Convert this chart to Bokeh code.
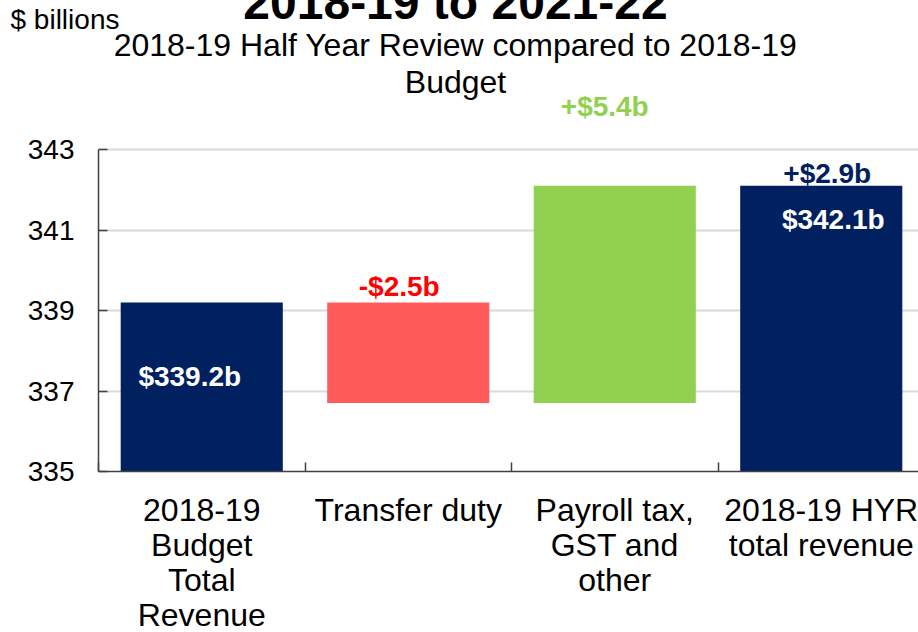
from bokeh.plotting import figure
from bokeh.models import ColumnDataSource, Range1d, FixedTicker, Label
from bokeh.core.properties import value
from bokeh.embed import file_html
from bokeh.resources import INLINE

# ---- data ----
categories = ["2018-19\nBudget\nTotal\nRevenue", "Transfer duty",
              "Payroll tax,\nGST and\nother", "2018-19 HYR\ntotal revenue"]
bar_bottom = [335.0, 336.7, 336.7, 335.0]
bar_top = [339.2, 339.2, 342.1, 342.1]
bar_colors = ["#002060", "#FF5B5B", "#92D050", "#002060"]
total_labels = ["$339.2b", "", "", "$342.1b"]
change_labels = ["", "-$2.5b", "+$5.4b", "+$2.9b"]
change_colors = ["#002060", "#FF0000", "#92D050", "#002060"]
y_ticks = [335, 337, 339, 341, 343]
title_text = "2018-19 to 2021-22"
subtitle_lines = ["2018-19 Half Year Review compared to 2018-19", "Budget"]
unit_text = "$ billions"

FONT = "Liberation Sans"
W, H = 918, 632
PX_X = 206.5   # px per category
PX_Y = 40.25   # px per $b
FRAME_LEFT, FRAME_TOP, FRAME_BOTTOM = 98, 93, 471
BASE_FIX = 0.32  # renderer places alphabetic baseline ~0.32em low; compensate
centers = [i + 0.5 for i in range(len(categories))]

p = figure(width=W, height=H, output_backend="svg", toolbar_location=None,
           x_range=Range1d(0, (W - FRAME_LEFT) / PX_X),
           y_range=Range1d(335, 335 + (FRAME_BOTTOM - FRAME_TOP) / PX_Y),
           min_border_left=FRAME_LEFT, min_border_right=0, min_border_top=FRAME_TOP,
           min_border_bottom=H - FRAME_BOTTOM)
p.outline_line_color = None

src = ColumnDataSource(dict(x=centers, bottom=bar_bottom, top=bar_top, color=bar_colors))
p.vbar(x="x", bottom="bottom", top="top", width=0.785, fill_color="color",
       line_color=None, source=src)

p.xgrid.grid_line_color = None
p.ygrid.ticker = FixedTicker(ticks=y_ticks)
p.ygrid.grid_line_color = "#D9D9D9"
p.ygrid.grid_line_width = 2

p.yaxis.ticker = FixedTicker(ticks=y_ticks)
p.yaxis.bounds = (335, 343)
p.yaxis.major_tick_in = 9
p.yaxis.major_tick_out = 0
p.yaxis.minor_tick_line_color = None
p.yaxis.major_label_standoff = 24
p.yaxis.major_label_text_font = FONT
p.yaxis.major_label_text_font_size = "28px"
p.yaxis.major_label_text_color = "black"
p.yaxis.axis_line_color = "#404040"
p.yaxis.axis_line_width = 1.5
p.yaxis.major_tick_line_color = "#404040"
p.yaxis.major_tick_line_width = 1.5

p.xaxis.ticker = FixedTicker(ticks=[], minor_ticks=[0, 1, 2, 3])
p.xaxis.major_tick_line_color = None
p.xaxis.minor_tick_in = 9
p.xaxis.minor_tick_out = 0
p.xaxis.minor_tick_line_color = "#404040"
p.xaxis.minor_tick_line_width = 1.5
p.xaxis.axis_line_color = "#404040"
p.xaxis.axis_line_width = 1.5


def dx(page_x):
    return (page_x - FRAME_LEFT) / PX_X


def dy(page_y, size):
    # data y for a text whose alphabetic baseline should sit at page_y
    return 335 + (FRAME_BOTTOM - page_y + BASE_FIX * size) / PX_Y


# value labels (pixel offsets from the bar tops)
total_dx = [-12, 0, 0, 12]
total_dy = [-74, 0, 0, -34]
change_dx = [0, -9, -10, 6]
change_dy = [0, 16, 79, 12]
for i, cx in enumerate(centers):
    if total_labels[i]:
        p.add_layout(Label(x=cx, y=bar_top[i], x_offset=total_dx[i], y_offset=total_dy[i],
                           text=total_labels[i], text_align="center",
                           text_baseline="alphabetic", text_font=FONT,
                           text_font_size="28px", text_font_style="bold",
                           text_color="white"))
    if change_labels[i]:
        p.add_layout(Label(x=cx, y=bar_top[i], x_offset=change_dx[i], y_offset=change_dy[i],
                           text=change_labels[i], text_align="center",
                           text_baseline="alphabetic", text_font=FONT,
                           text_font_size="28px", text_font_style="bold",
                           text_color=change_colors[i]))

# category labels below the axis, one text per line
cat_x, cat_y, cat_t = [], [], []
for cx, cat in zip(centers, categories):
    for j, line in enumerate(cat.split("\n")):
        cat_x.append(cx)
        cat_y.append(dy(520 + 34.8 * j, 32))
        cat_t.append(line)
p.text(x=cat_x, y=cat_y, text=cat_t, text_align="center", text_baseline="alphabetic",
       text_font=value(FONT), text_font_size=value("32px"), text_color="black",
       level="overlay")

# headings
p.text(x=[dx(455)], y=[dy(17, 48)], text=[title_text], text_align="center",
       text_baseline="alphabetic", text_font=value(FONT), text_font_size=value("48px"),
       text_font_style="bold", text_color="black", level="overlay")
p.text(x=[dx(10)], y=[dy(28, 28)], text=[unit_text], text_align="left",
       text_baseline="alphabetic", text_font=value(FONT), text_font_size=value("28px"),
       text_color="black", level="overlay")
p.text(x=[dx(455), dx(455)], y=[dy(55, 32), dy(92, 32)], text=subtitle_lines,
       text_align="center", text_baseline="alphabetic", text_font=value(FONT),
       text_font_size=value("32px"), text_color="black", level="overlay")

open("out.html", "w").write(file_html(p, INLINE))
